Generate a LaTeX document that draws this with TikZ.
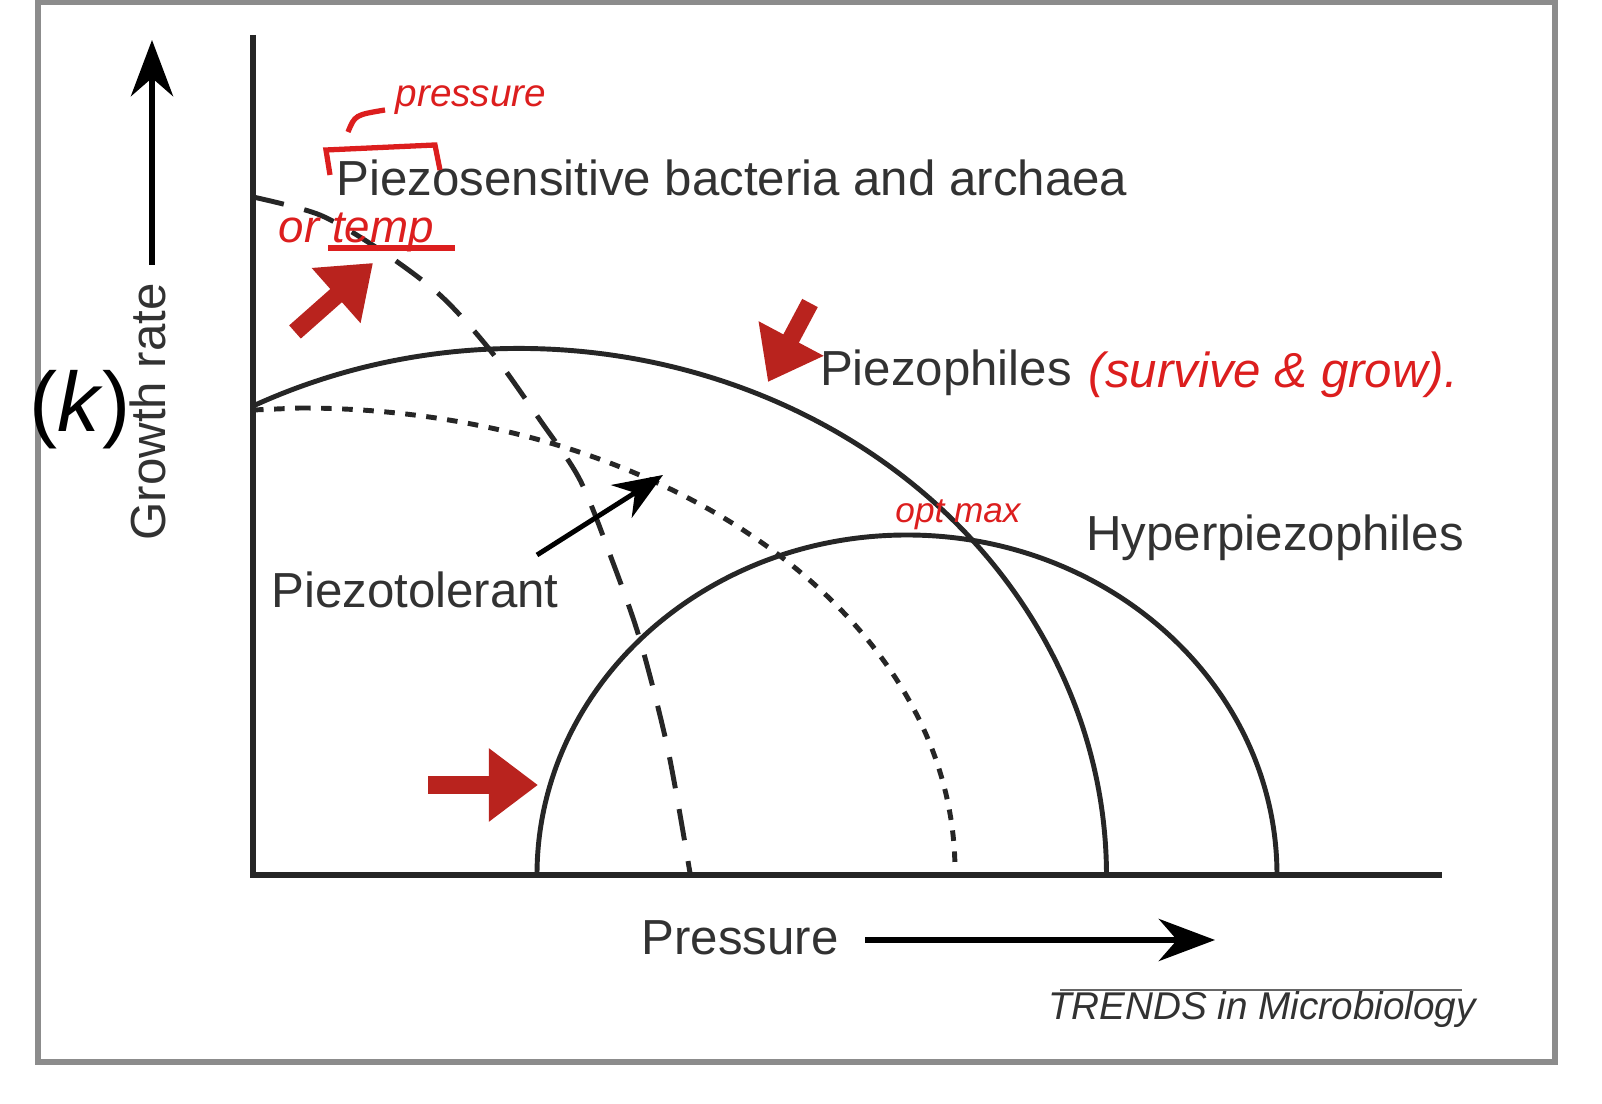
\documentclass[tikz,border=0pt]{standalone}
\usepackage{fontspec}
\setmainfont{Liberation Sans}
\usetikzlibrary{arrows.meta}
\definecolor{hand}{RGB}{220,30,30}
\definecolor{darkred}{RGB}{185,35,30}
\definecolor{txt}{RGB}{50,50,50}
\begin{document}
\begin{tikzpicture}[x=0.01cm,y=-0.01cm,
  lbl/.style={text=txt,font=\fontsize{14}{16}\selectfont,inner sep=0},
  curve/.style={line width=1.4pt,color=black!85},
  redarrow/.style={darkred,line width=5pt,-{Triangle[length=14pt,width=20pt]}},
  handtxt/.style={text=hand,font=\fontsize{11}{13}\itshape,inner sep=0}]
\useasboundingbox (0,0) rectangle (1602,1104);
\draw[black!45,line width=1.5pt] (38,2) rectangle (1555,1062);
% axes
\coordinate (ytop) at (253,35); \coordinate (orig) at (253,875); \coordinate (xend) at (1442,875);
\draw[curve,line width=1.8pt] (ytop) -- (orig) -- (xend);
% growth rate arrow
\coordinate (ga) at (152,265); \coordinate (gb) at (152,40);
\draw[line width=1.5pt,-{Stealth[length=16pt,width=12pt]}] (ga) -- (gb);
\node[lbl,rotate=90] (gr) at (148,412) {Growth rate};
\node[inner sep=0,font=\fontsize{24}{26}\selectfont] (k) at (80,410) {(\textit{k})};
% pressure
\node[lbl] (pr) at (740,938) {Pressure};
\coordinate (pa) at (865,940); \coordinate (pb) at (1215,940);
\draw[line width=1.5pt,-{Stealth[length=16pt,width=12pt]}] (pa) -- (pb);
\node[text=txt,font=\fontsize{11}{13}\selectfont\itshape,inner sep=0] (tr) at (1262,1010) {TRENDS in Microbiology};
\draw[black!60,line width=0.8pt] (1060,990) -- (1462,990);
% curves
\draw[curve,dashed,dash pattern=on 9pt off 6pt] plot[smooth] coordinates {(253,197) (320,215) (380,250) (440,295) (490,350) (540,420) (580,480) (612,560) (640,640) (668,750) (690,873)};
\draw[curve] (253,406) arc[start angle=117,end angle=0,x radius=587,y radius=-527];
\draw[curve,dash pattern=on 3pt off 3pt] (253,875) ++(0,-465) -- ++(47,-2) coordinate(pt0);
\draw[curve,dash pattern=on 3pt off 3pt] (pt0) arc[start angle=90,end angle=0,x radius=655,y radius=-463];
\draw[curve] (537,875) arc[start angle=180,end angle=0,x radius=370,y radius=-340];
% labels
\node[lbl] (ps) at (732,178) {Piezosensitive bacteria and archaea};
\node[lbl] (ph) at (946,373) {Piezophiles};
\node[lbl] (hp) at (1275,538) {Hyperpiezophiles};
\node[lbl] (pt) at (415,590) {Piezotolerant};
\coordinate (ta) at (537,555); \coordinate (tb) at (663,475);
\draw[line width=1.4pt,-{Stealth[length=14pt,width=11pt]}] (ta) -- (tb);
% red annotations
\coordinate (r1a) at (295,332); \coordinate (r1b) at (373,263);
\draw[redarrow] (r1a) -- (r1b);
\coordinate (r2a) at (810,303); \coordinate (r2b) at (768,382);
\draw[redarrow] (r2a) -- (r2b);
\coordinate (r3a) at (428,785); \coordinate (r3b) at (538,785);
\draw[redarrow] (r3a) -- (r3b);
\draw[hand,line width=1.5pt] (330,175) -- (326,150) -- (435,145) -- (440,170);
\draw[hand,line width=1.5pt] (348,132) .. controls (355,115) .. (385,110);
\node[handtxt,anchor=west] (hw1) at (395,100) {pressure};
\node[handtxt,font=\fontsize{13}{15}\itshape,anchor=west] (hw2) at (278,232) {or temp};
\draw[hand,line width=1.5pt] (328,248) -- (455,248);
\node[handtxt,font=\fontsize{14}{16}\itshape,anchor=west] (hw3) at (1088,375) {(survive \& grow).};
\node[handtxt,font=\fontsize{10}{12}\itshape] (hw4) at (958,515) {opt max};
\end{tikzpicture}
\end{document}
